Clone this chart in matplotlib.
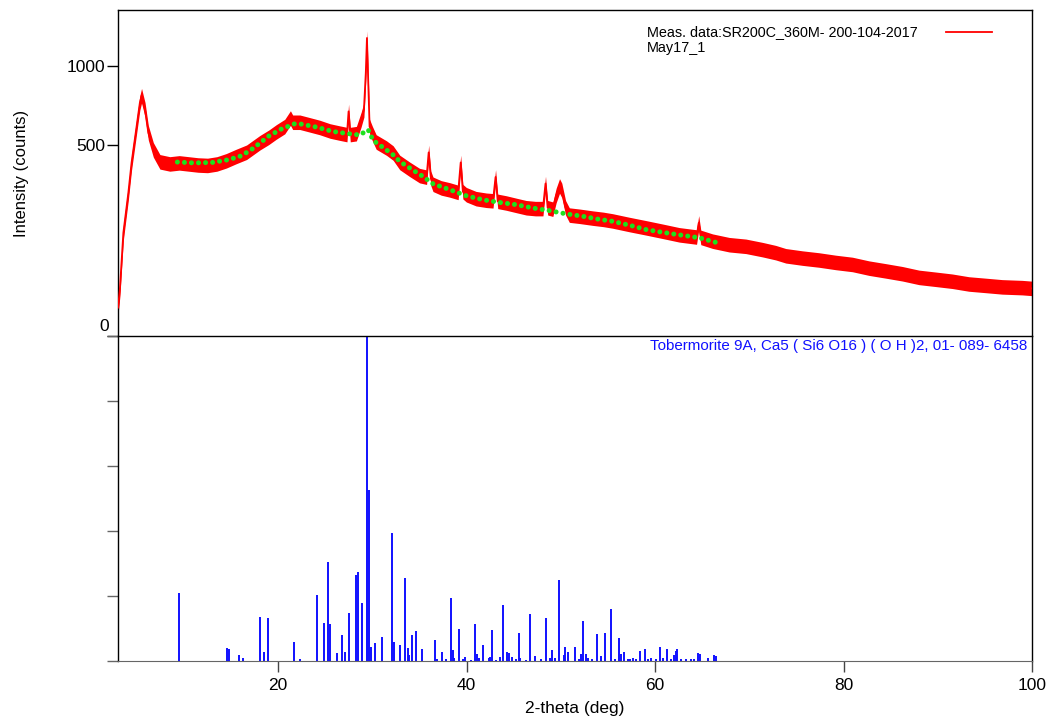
import numpy as np
import matplotlib
matplotlib.use("Agg")
import matplotlib.pyplot as plt
from matplotlib.lines import Line2D

plt.rcParams['font.family'] = ['Liberation Sans', 'DejaVu Sans']

# ---------------- data ----------------
two_theta = [3.0, 3.2, 3.57, 4.1, 4.44, 4.97, 5.32, 5.5, 5.87, 6.22, 6.75, 7.45,
             8.5, 9.5, 10.5, 11.5, 12.5, 13.5, 14.5, 15.5, 16.65, 18.06, 19.0,
             19.81, 20.7, 21.3, 21.54, 22.3, 23.0, 24.4, 25.5, 26.54, 27.3, 27.47,
             27.65, 28.3, 28.8, 29.1, 29.3, 29.42, 29.55, 29.7, 30.0, 30.4, 31.5,
             32.2, 32.9, 33.96, 35.0, 35.75, 35.97, 36.2, 36.43, 37.3, 38.2, 39.1,
             39.37, 39.6, 39.97, 41.0, 42.09, 42.8, 43.07, 43.3, 44.2, 45.3, 46.32,
             47.3, 48.1, 48.37, 48.6, 49.15, 49.5, 49.86, 50.1, 50.5, 50.9, 52.0,
             53.4, 54.5, 55.5, 57.27, 59.04, 60.8, 62.57, 64.4, 64.63, 64.85, 66.1,
             67.87, 69.64, 71.4, 72.8, 73.87, 75.64, 77.4, 79.17, 80.94, 82.7,
             84.47, 86.24, 88.0, 89.77, 91.54, 93.3, 95.07, 96.84, 98.96, 100.0]
counts = [11, 30, 146, 281, 411, 599, 744, 790, 700, 565, 474, 415,
          405, 410, 405, 400, 398, 405, 420, 440, 462, 511, 540,
          570, 600, 650, 625, 625, 615, 595, 575, 563, 555, 690,
          555, 560, 640, 700, 950, 1215, 900, 600, 560, 515, 483,
          458, 412, 380, 352, 345, 461, 340, 315, 300, 292, 282,
          412, 285, 273, 258, 252, 250, 346, 248, 242, 233, 225,
          222, 222, 318, 225, 220, 270, 308, 290, 225, 200, 196,
          190, 186, 181, 170, 160, 150, 140, 134, 175, 133, 123,
          114, 110, 102, 95, 88, 83, 79, 74, 70, 63,
          58, 53, 47, 44, 41, 37, 35, 33, 32, 31]

bg_theta = [9.3, 11.0, 13.0, 14.7, 15.9, 17.0, 18.06, 18.94, 20.3, 21.73, 22.37,
            24.07, 25.83, 27.6, 28.66, 29.55, 30.08, 31.14, 32.2, 32.9, 33.96,
            35.37, 36.43, 38.2, 39.97, 41.73, 43.5, 45.27, 47.03, 48.8, 50.56,
            52.33, 53.92, 55.5, 57.27, 59.04, 60.8, 62.57, 64.7, 66.6]
bg_counts = [414, 410, 412, 425, 441, 470, 509, 545, 585, 616, 615,
             597, 572, 559, 553, 582, 523, 486, 449, 417, 386,
             348, 317, 293, 269, 254, 244, 236, 224, 215, 204,
             196, 187, 180, 168, 155, 147, 140, 132, 119]

ref_theta = [9.44, 14.6, 14.75, 15.87, 16.29, 18.06, 18.45, 18.88, 21.7, 22.3,
             24.13, 24.81, 25.31, 25.48, 26.19, 26.82, 27.07, 27.49, 28.24, 28.52,
             28.94, 29.47, 29.68, 29.89, 30.28, 31.02, 32.05, 32.34, 32.97, 33.5,
             33.75, 33.93, 34.17, 34.67, 35.3, 36.59, 36.86, 37.35, 37.78, 38.3,
             38.55, 38.69, 39.22, 39.58, 39.79, 40.46, 40.92, 41.13, 41.31, 41.7,
             42.37, 42.51, 42.65, 43.15, 43.5, 43.82, 44.27, 44.48, 44.84, 45.19,
             45.51, 45.69, 46.33, 46.68, 47.24, 47.92, 48.45, 48.8, 49.08, 49.33,
             49.82, 50.31, 50.46, 50.81, 51.52, 51.9, 52.16, 52.4, 52.72, 52.93,
             53.32, 53.85, 54.23, 54.7, 55.37, 55.79, 56.18, 56.43, 56.67, 57.1,
             57.35, 57.63, 57.99, 58.37, 58.97, 59.22, 59.57, 60.1, 60.49, 60.8,
             61.3, 61.69, 62.01, 62.22, 62.36, 62.79, 63.28, 63.82, 64.17, 64.59,
             64.73, 65.58, 66.29, 66.47]
ref_intensity = [21.0, 3.9, 3.7, 1.7, 0.9, 13.6, 2.7, 13.3, 5.9, 0.5,
                 20.4, 11.6, 30.6, 11.3, 2.6, 8.0, 2.9, 14.9, 26.4, 27.5,
                 17.8, 100.0, 52.5, 4.4, 5.6, 7.4, 39.5, 5.9, 4.9, 25.6,
                 3.9, 1.8, 8.0, 9.2, 3.8, 6.6, 0.5, 2.8, 0.5, 19.5,
                 3.3, 1.0, 9.9, 0.7, 1.2, 0.3, 11.4, 2.1, 0.9, 4.8,
                 0.8, 1.2, 9.6, 0.3, 1.1, 17.3, 2.8, 2.4, 1.3, 0.7,
                 8.6, 1.0, 0.3, 14.6, 1.6, 0.7, 13.2, 0.8, 3.3, 1.0,
                 24.8, 1.7, 4.3, 2.7, 4.2, 0.5, 2.1, 12.2, 2.1, 0.8,
                 0.5, 8.4, 1.5, 8.6, 16.1, 0.7, 7.2, 2.1, 2.9, 0.7,
                 0.7, 1.0, 0.7, 3.1, 3.6, 0.7, 0.8, 0.7, 4.3, 1.0,
                 3.7, 0.5, 1.7, 3.1, 3.6, 0.7, 0.5, 0.5, 0.7, 2.6,
                 2.1, 1.0, 1.8, 1.5]

y_ticks = [0, 500, 1000]
x_ticks = [20, 40, 60, 80, 100]
x_tick_labels = ['20', '40', '60', '80', '100']
legend_lines = ["Meas. data:SR200C_360M- 200-104-2017", "May17_1"]
ref_label = "Tobermorite 9A, Ca5 ( Si6 O16 ) ( O H )2, 01- 089- 6458"

# ---------------- figure ----------------
W, H = 1053, 724
fig = plt.figure(figsize=(W / 100, H / 100), dpi=100)

L, R, T, M, B = 118, 1032, 10, 336, 661
ax_top = fig.add_axes([L / W, 1 - M / H, (R - L) / W, (M - T) / H])
ax_bot = fig.add_axes([L / W, 1 - B / H, (R - L) / W, (B - M) / H], sharex=ax_top)

RED = '#ff0000'
GREEN = '#1ee01e'
BLUE = '#1010ff'
NOISE = 0.85  # half-width of the noise band in sqrt(counts) units (style)

def fwd(v):
    return np.sqrt(np.clip(v, 0, None))

def inv(v):
    return np.square(v)

ax_top.set_yscale('function', functions=(fwd, inv))

tt = np.asarray(two_theta, dtype=float)
cc = np.asarray(counts, dtype=float)
sq = np.sqrt(cc)
ax_top.fill_between(tt, np.clip(sq - NOISE, 0, None) ** 2, (sq + NOISE) ** 2,
                    color=RED, lw=0, zorder=2)
ax_top.plot(tt, cc, color=RED, lw=1.3, zorder=3)
ax_top.plot(bg_theta, bg_counts, color=GREEN, lw=3.6,
            linestyle=(0, (0.01, 1.4)), dash_capstyle='round', zorder=4)

ax_top.set_xlim(3.0, 100)
ax_top.set_ylim(0, 1454)
ax_top.set_yticks(y_ticks)
ax_top.set_yticklabels(['', '500', '1000'])
ax_top.tick_params(axis='y', direction='out', length=8, width=1, pad=1,
                   labelsize=12.5, color='black')
ax_top.tick_params(axis='x', which='both', bottom=False, labelbottom=False)
ax_top.annotate('0', xy=(0, 0), xycoords=('axes fraction', 'data'),
                xytext=(-9, 9), textcoords='offset pixels',
                ha='right', va='center', fontsize=12.5)
ax_top.spines['bottom'].set_visible(False)
for s in ['left', 'top', 'right']:
    ax_top.spines[s].set_color('black')
    ax_top.spines[s].set_linewidth(1.0)
ax_top.set_ylabel('Intensity (counts)', fontsize=12)
ax_top.yaxis.set_label_coords(-0.097, 0.5)

# legend-like annotation
fig.text(647 / W, 1 - 32 / H, legend_lines[0], fontsize=10.4, ha='left', va='center')
fig.text(647 / W, 1 - 48 / H, legend_lines[1], fontsize=10.4, ha='left', va='center')
fig.add_artist(Line2D([946 / W, 992 / W], [1 - 32 / H, 1 - 32 / H],
                      color=RED, lw=1.3))

# reference stick pattern
ax_bot.vlines(ref_theta, 0, ref_intensity, colors=BLUE, lw=1.4)
ax_bot.set_ylim(0, 100)
ax_bot.set_yticks([0, 20, 40, 60, 80, 100])
ax_bot.set_yticklabels([])
ax_bot.tick_params(axis='y', direction='out', length=8, width=1, color='#666666')
ax_bot.set_xticks(x_ticks)
ax_bot.set_xticklabels(x_tick_labels)
ax_bot.tick_params(axis='x', direction='out', length=8, width=1, color='#444444',
                   labelsize=12.5, pad=4)
ax_bot.spines['bottom'].set_color('#666666')
for s in ['left', 'top', 'right']:
    ax_bot.spines[s].set_color('black')
    ax_bot.spines[s].set_linewidth(1.0)
ax_bot.text(0.9945, 0.97, ref_label, transform=ax_bot.transAxes, ha='right',
            va='center', color=BLUE, fontsize=10.9)
ax_bot.set_xlabel('2-theta (deg)', fontsize=12.5, labelpad=6)

fig.savefig('out.png', dpi=100)
